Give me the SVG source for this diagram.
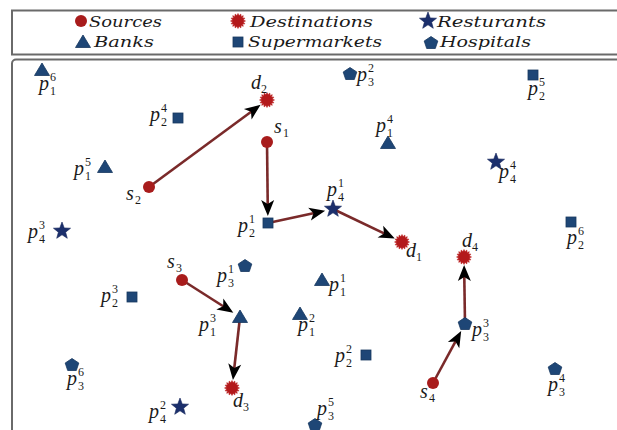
<svg xmlns="http://www.w3.org/2000/svg" xmlns:xlink="http://www.w3.org/1999/xlink" width="617" height="430" viewBox="0 0 617 430">
<style>
.frame{fill:none;stroke:#6a6a6a;stroke-width:2}
.src{fill:#a81c1c}
.dst{fill:#b3191b;stroke:#c02a2a;stroke-width:0.6}
.blu{fill:#1e4676;stroke:#17375f;stroke-width:0.8}
.star{fill:#1b2f6c;stroke:#14255a;stroke-width:0.6}
.lt{font-family:"DejaVu Serif","Liberation Serif",serif;font-style:italic;font-size:15px;fill:#1a1a1a}
.l{font-family:"Liberation Serif","DejaVu Serif",serif;font-style:italic;font-size:20px;fill:#1a1a1a}
.i{font-family:"Liberation Serif","DejaVu Serif",serif;font-size:12px;fill:#1a1a1a}
.edge{stroke:#7a2a2a;stroke-width:2.6;fill:none;marker-end:url(#ah)}
</style>
<defs>
<marker id="ah" viewBox="-17 -8 18 16" markerWidth="18" markerHeight="16" refX="-5" refY="0" orient="auto" markerUnits="userSpaceOnUse">
<path d="M0,0 L-16,-6.5 L-12,0 L-16,6.5 Z" fill="#000"/>
</marker>
<polygon id="burst" points="7.5,0 5.394,1.073 6.929,2.87 4.573,3.056 5.303,5.303 3.056,4.573 2.87,6.929 1.073,5.394 0,7.5 -1.073,5.394 -2.87,6.929 -3.056,4.573 -5.303,5.303 -4.573,3.056 -6.929,2.87 -5.394,1.073 -7.5,0 -5.394,-1.073 -6.929,-2.87 -4.573,-3.056 -5.303,-5.303 -3.056,-4.573 -2.87,-6.929 -1.073,-5.394 0,-7.5 1.073,-5.394 2.87,-6.929 3.056,-4.573 5.303,-5.303 4.573,-3.056 6.929,-2.87 5.394,-1.073"/>
<polygon id="star" points="0,-9 2.23,-3.07 8.56,-2.78 3.61,1.17 5.29,7.28 0,3.8 -5.29,7.28 -3.61,1.17 -8.56,-2.78 -2.23,-3.07"/>
<polygon id="pent" points="0,-6.5 6.8,-2 4.3,5.5 -4.3,5.5 -6.8,-2"/>
<polygon id="tri" points="0,-7 7.5,5.5 -7.5,5.5"/>
<rect id="sq" x="-5" y="-5" width="10" height="10"/>
</defs>

<rect class="frame" x="12" y="10.5" width="640" height="44"/>
<rect class="frame" x="12" y="59.5" width="640" height="400" rx="4"/>

<g id="legend">
<circle class="src" cx="81" cy="21" r="6"/>
<text class="lt" x="89" y="27" textLength="73" lengthAdjust="spacingAndGlyphs">Sources</text>
<use href="#burst" class="dst" x="238" y="21"/>
<text class="lt" x="250" y="27" textLength="123" lengthAdjust="spacingAndGlyphs">Destinations</text>
<use href="#star" class="star" x="428" y="21"/>
<text class="lt" x="437" y="27" textLength="109" lengthAdjust="spacingAndGlyphs">Resturants</text>
<use href="#tri" class="blu" x="83" y="42"/>
<text class="lt" x="94" y="47" textLength="60" lengthAdjust="spacingAndGlyphs">Banks</text>
<use href="#sq" class="blu" x="238" y="42"/>
<text class="lt" x="248" y="47" textLength="134" lengthAdjust="spacingAndGlyphs">Supermarkets</text>
<use href="#pent" class="blu" x="431" y="43"/>
<text class="lt" x="440" y="47" textLength="91" lengthAdjust="spacingAndGlyphs">Hospitals</text>
</g>

<g id="connectors">
<line class="edge" x1="149" y1="187" x2="256.6" y2="107.7"/>
<line class="edge" x1="267" y1="142" x2="267.8" y2="211"/>
<line class="edge" x1="268" y1="223" x2="320.3" y2="211.7"/>
<line class="edge" x1="333" y1="209" x2="390.3" y2="236.4"/>
<line class="edge" x1="182" y1="280" x2="229.1" y2="310"/>
<line class="edge" x1="240" y1="317" x2="233.5" y2="375"/>
<line class="edge" x1="433" y1="383" x2="458.8" y2="335.4"/>
<line class="edge" x1="465" y1="324" x2="464.2" y2="270"/>
</g>

<g id="s1"><circle class="src" cx="267" cy="142" r="6"/><text class="l" x="274" y="133">s</text><text class="i" x="283" y="137">1</text></g>
<g id="s2"><circle class="src" cx="149" cy="187" r="6"/><text class="l" x="126" y="200">s</text><text class="i" x="135" y="204">2</text></g>
<g id="s3"><circle class="src" cx="182" cy="280" r="6"/><text class="l" x="167" y="268">s</text><text class="i" x="176" y="272">3</text></g>
<g id="s4"><circle class="src" cx="433" cy="383" r="6"/><text class="l" x="420" y="398">s</text><text class="i" x="429" y="402">4</text></g>

<g id="d1"><use href="#burst" class="dst" x="402" y="242"/><text class="l" x="406" y="257">d</text><text class="i" x="416" y="261">1</text></g>
<g id="d2"><use href="#burst" class="dst" x="267" y="100"/><text class="l" x="251" y="89">d</text><text class="i" x="261" y="93">2</text></g>
<g id="d3"><use href="#burst" class="dst" x="232" y="388"/><text class="l" x="233" y="407">d</text><text class="i" x="243" y="411">3</text></g>
<g id="d4"><use href="#burst" class="dst" x="464" y="257"/><text class="l" x="462" y="247">d</text><text class="i" x="472" y="251">4</text></g>

<g id="p1_1"><use href="#tri" class="blu" x="322" y="280"/><text class="l" x="329" y="291">p</text><text class="i" x="340" y="282">1</text><text class="i" x="340" y="296">1</text></g>
<g id="p1_2"><use href="#tri" class="blu" x="300" y="314"/><text class="l" x="298" y="331">p</text><text class="i" x="309" y="322">2</text><text class="i" x="309" y="336">1</text></g>
<g id="p1_3"><use href="#tri" class="blu" x="240" y="317"/><text class="l" x="199" y="331">p</text><text class="i" x="210" y="322">3</text><text class="i" x="210" y="336">1</text></g>
<g id="p1_4"><use href="#tri" class="blu" x="388" y="143"/><text class="l" x="376" y="132">p</text><text class="i" x="387" y="123">4</text><text class="i" x="387" y="137">1</text></g>
<g id="p1_5"><use href="#tri" class="blu" x="105" y="167"/><text class="l" x="74" y="175">p</text><text class="i" x="85" y="166">5</text><text class="i" x="85" y="180">1</text></g>
<g id="p1_6"><use href="#tri" class="blu" x="42" y="70"/><text class="l" x="39" y="90">p</text><text class="i" x="50" y="81">6</text><text class="i" x="50" y="95">1</text></g>

<g id="p2_1"><use href="#sq" class="blu" x="268" y="223"/><text class="l" x="238" y="232">p</text><text class="i" x="249" y="223">1</text><text class="i" x="249" y="237">2</text></g>
<g id="p2_2"><use href="#sq" class="blu" x="366" y="355"/><text class="l" x="335" y="362">p</text><text class="i" x="346" y="353">2</text><text class="i" x="346" y="367">2</text></g>
<g id="p2_3"><use href="#sq" class="blu" x="132" y="297"/><text class="l" x="101" y="302">p</text><text class="i" x="112" y="293">3</text><text class="i" x="112" y="307">2</text></g>
<g id="p2_4"><use href="#sq" class="blu" x="178" y="118"/><text class="l" x="150" y="121">p</text><text class="i" x="161" y="112">4</text><text class="i" x="161" y="126">2</text></g>
<g id="p2_5"><use href="#sq" class="blu" x="533" y="75"/><text class="l" x="528" y="95">p</text><text class="i" x="539" y="86">5</text><text class="i" x="539" y="100">2</text></g>
<g id="p2_6"><use href="#sq" class="blu" x="571" y="222"/><text class="l" x="567" y="244">p</text><text class="i" x="578" y="235">6</text><text class="i" x="578" y="249">2</text></g>

<g id="p3_1"><use href="#pent" class="blu" x="245" y="266"/><text class="l" x="217" y="282">p</text><text class="i" x="228" y="273">1</text><text class="i" x="228" y="287">3</text></g>
<g id="p3_2"><use href="#pent" class="blu" x="350" y="74"/><text class="l" x="357" y="81">p</text><text class="i" x="368" y="72">2</text><text class="i" x="368" y="86">3</text></g>
<g id="p3_3"><use href="#pent" class="blu" x="465" y="324"/><text class="l" x="472" y="336">p</text><text class="i" x="483" y="327">3</text><text class="i" x="483" y="341">3</text></g>
<g id="p3_4"><use href="#pent" class="blu" x="555" y="369"/><text class="l" x="548" y="391">p</text><text class="i" x="559" y="382">4</text><text class="i" x="559" y="396">3</text></g>
<g id="p3_5"><use href="#pent" class="blu" x="315" y="425"/><text class="l" x="317" y="415">p</text><text class="i" x="328" y="406">5</text><text class="i" x="328" y="420">3</text></g>
<g id="p3_6"><use href="#pent" class="blu" x="72" y="365"/><text class="l" x="67" y="385">p</text><text class="i" x="78" y="376">6</text><text class="i" x="78" y="390">3</text></g>

<g id="p4_1"><use href="#star" class="star" x="333" y="209"/><text class="l" x="327" y="196">p</text><text class="i" x="338" y="187">1</text><text class="i" x="338" y="201">4</text></g>
<g id="p4_2"><use href="#star" class="star" x="180" y="407"/><text class="l" x="149" y="418">p</text><text class="i" x="160" y="409">2</text><text class="i" x="160" y="423">4</text></g>
<g id="p4_3"><use href="#star" class="star" x="62" y="231"/><text class="l" x="28" y="238">p</text><text class="i" x="39" y="229">3</text><text class="i" x="39" y="243">4</text></g>
<g id="p4_4"><use href="#star" class="star" x="496" y="162"/><text class="l" x="499" y="178">p</text><text class="i" x="510" y="169">4</text><text class="i" x="510" y="183">4</text></g>
</svg>
